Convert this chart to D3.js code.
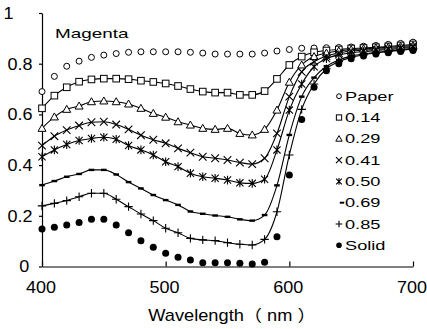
<!DOCTYPE html>
<html>
<head>
<meta charset="utf-8">
<script src="https://cdn.jsdelivr.net/npm/d3@7"></script>
<style>
  body { margin: 0; background: #fff; }
  text { font-family: "Liberation Sans", Arial, "Noto Sans CJK JP", sans-serif; fill: #000; }
</style>
</head>
<body>
<div id="chart"></div>
<script>
// wavelength samples (nm)
const wavelength = [400, 410, 420, 430, 440, 450, 460, 470, 480, 490, 500, 510, 520, 530, 540, 550,
  560, 570, 580, 590, 600, 610, 620, 630, 640, 650, 660, 670, 680, 690, 700];

// measured reflectance
const paper = [0.69, 0.75, 0.79, 0.81, 0.825, 0.834, 0.84, 0.845, 0.847, 0.847, 0.847, 0.847, 0.845, 0.842, 0.838, 0.838,
  0.838, 0.838, 0.842, 0.85, 0.856, 0.861, 0.862, 0.863, 0.864, 0.866, 0.869, 0.872, 0.876, 0.88, 0.885];
const m014 = [0.624, 0.674, 0.707, 0.729, 0.738, 0.741, 0.741, 0.739, 0.733, 0.728, 0.722, 0.712, 0.70, 0.69, 0.686, 0.686,
  0.677, 0.677, 0.692, 0.74, 0.795, 0.828, 0.845, 0.852, 0.856, 0.86, 0.862, 0.865, 0.868, 0.872, 0.876];
const m029 = [0.545, 0.59, 0.62, 0.633, 0.65, 0.653, 0.65, 0.641, 0.624, 0.604, 0.589, 0.571, 0.558, 0.545, 0.541, 0.545,
  0.525, 0.519, 0.541, 0.617, 0.727, 0.795, 0.828, 0.842, 0.85, 0.855, 0.858, 0.862, 0.865, 0.868, 0.872];
const m041 = [0.477, 0.514, 0.538, 0.556, 0.569, 0.571, 0.56, 0.541, 0.518, 0.50, 0.486, 0.466, 0.449, 0.433, 0.427, 0.42,
  0.41, 0.404, 0.427, 0.525, 0.67, 0.768, 0.808, 0.83, 0.842, 0.85, 0.853, 0.857, 0.86, 0.864, 0.868];
const m050 = [0.433, 0.46, 0.481, 0.497, 0.505, 0.51, 0.502, 0.477, 0.46, 0.44, 0.413, 0.394, 0.368, 0.354, 0.348, 0.341,
  0.33, 0.328, 0.344, 0.46, 0.617, 0.72, 0.788, 0.82, 0.835, 0.843, 0.848, 0.852, 0.856, 0.86, 0.865];
const m069 = [0.321, 0.337, 0.354, 0.365, 0.381, 0.381, 0.363, 0.333, 0.308, 0.282, 0.262, 0.243, 0.217, 0.208, 0.201, 0.196,
  0.186, 0.181, 0.203, 0.32, 0.519, 0.67, 0.745, 0.79, 0.815, 0.83, 0.838, 0.845, 0.85, 0.855, 0.86];
const m085 = [0.239, 0.249, 0.26, 0.275, 0.289, 0.289, 0.265, 0.236, 0.207, 0.181, 0.151, 0.133, 0.111, 0.105, 0.102, 0.094,
  0.088, 0.085, 0.107, 0.216, 0.44, 0.62, 0.72, 0.78, 0.808, 0.825, 0.835, 0.842, 0.848, 0.853, 0.858];
const solid = [0.148, 0.155, 0.164, 0.174, 0.186, 0.186, 0.164, 0.133, 0.102, 0.076, 0.052, 0.036, 0.026, 0.015, 0.015, 0.015,
  0.013, 0.01, 0.017, 0.117, 0.361, 0.58, 0.707, 0.772, 0.80, 0.82, 0.83, 0.838, 0.843, 0.848, 0.852];

const seriesNames = ["Paper", "0.14", "0.29", "0.41", "0.50", "0.69", "0.85", "Solid"];
const xTicks = [400, 500, 600, 700];
const yTicks = [0, 0.2, 0.4, 0.6, 0.8, 1];

const width = 427, height = 329;
const x = d3.scaleLinear().domain([400, 700]).range([42, 413]);
const y = d3.scaleLinear().domain([0, 1]).range([266.5, 13]);

const svg = d3.select("#chart").append("svg")
  .attr("width", width)
  .attr("height", height);

// marker shapes, s = scale factor
function drawMarker(g, type, s) {
  const k = s || 1;
  if (type === "circle") {
    g.append("circle").attr("r", 3 * k).attr("fill", "#fff").attr("stroke", "#000").attr("stroke-width", 1);
  } else if (type === "square") {
    g.append("rect").attr("x", -3.3 * k).attr("y", -3.3 * k).attr("width", 6.6 * k).attr("height", 6.6 * k)
      .attr("fill", "#fff").attr("stroke", "#000").attr("stroke-width", 1);
  } else if (type === "triangle") {
    g.append("path").attr("d", `M0,${-4 * k}L${4 * k},${3 * k}L${-4 * k},${3 * k}Z`)
      .attr("fill", "#fff").attr("stroke", "#000").attr("stroke-width", 1);
  } else if (type === "times") {
    const a = 3.8 * k;
    g.append("path").attr("d", `M${-a},${-a}L${a},${a}M${-a},${a}L${a},${-a}`).attr("stroke", "#000").attr("stroke-width", 1.1);
  } else if (type === "asterisk") {
    const a = 3.6 * k;
    g.append("path").attr("d", `M${-a},${-a}L${a},${a}M${-a},${a}L${a},${-a}M0,${-a * 1.2}L0,${a * 1.2}`)
      .attr("stroke", "#000").attr("stroke-width", 1.1);
  } else if (type === "dash") {
    g.append("rect").attr("x", -2.8 * k).attr("y", -1.2 * k).attr("width", 5.6 * k).attr("height", 2.4 * k).attr("fill", "#000");
  } else if (type === "plus") {
    const a = 4.2 * k;
    g.append("path").attr("d", `M${-a},0L${a},0M0,${-a}L0,${a}`).attr("stroke", "#000").attr("stroke-width", 1.1);
  } else if (type === "dot") {
    g.append("circle").attr("r", 3.5 * k).attr("fill", "#000");
  }
}

const series = [
  { name: seriesNames[0], values: paper, marker: "circle", line: false },
  { name: seriesNames[1], values: m014, marker: "square", line: true },
  { name: seriesNames[2], values: m029, marker: "triangle", line: true },
  { name: seriesNames[3], values: m041, marker: "times", line: true },
  { name: seriesNames[4], values: m050, marker: "asterisk", line: true },
  { name: seriesNames[5], values: m069, marker: "dash", line: true },
  { name: seriesNames[6], values: m085, marker: "plus", line: true },
  { name: seriesNames[7], values: solid, marker: "dot", line: false }
];

// axes
const xAxis = svg.append("g")
  .attr("transform", `translate(0,${y(0)})`)
  .call(d3.axisBottom(x).tickValues(xTicks).tickSize(-5).tickSizeOuter(0).tickPadding(14));
xAxis.selectAll("text").attr("font-size", 17).attr("transform", "scale(1.06,1)").attr("dx", -1.5);

const yAxis = svg.append("g")
  .attr("transform", `translate(${x(400)},0)`)
  .call(d3.axisLeft(y).tickValues(yTicks).tickSize(3).tickSizeOuter(0).tickPadding(6)
    .tickFormat(d => d === 0 ? "0" : d === 1 ? "1" : d3.format(".1f")(d)));
yAxis.selectAll("text").attr("font-size", 17).attr("transform", "scale(1.06,1)")
  .attr("dx", d => d === 1 ? -18 : d === 0 ? -3 : 0);

svg.selectAll(".domain, .tick line").attr("stroke", "#000").attr("stroke-width", 1.2);
svg.selectAll(".tick text").attr("fill", "#000").style("font-family", null);

// lines
const line = d3.line()
  .x((d, i) => x(wavelength[i]))
  .y(d => y(d))
  .curve(d3.curveMonotoneX);

svg.append("g").selectAll("path")
  .data(series.filter(s => s.line))
  .join("path")
  .attr("d", s => line(s.values))
  .attr("fill", "none")
  .attr("stroke", "#000")
  .attr("stroke-width", 1.1);

// markers
series.forEach(s => {
  const g = svg.append("g");
  s.values.forEach((v, i) => {
    const m = g.append("g").attr("transform", `translate(${x(wavelength[i])},${y(v)})`);
    drawMarker(m, s.marker, 1);
  });
});

// title inside plot
svg.append("text")
  .attr("transform", "translate(55,38) scale(1.4,1)")
  .attr("font-size", 13.5)
  .text("Magenta");

// legend
const legend = svg.append("g");
series.forEach((s, i) => {
  const base = 100.7 + i * 21.3;
  const mx = s.marker === "dash" ? 342 : 339;
  const mg = legend.append("g").attr("transform", `translate(${mx},${base - 4.5})`);
  drawMarker(mg, s.marker, 0.8);
  legend.append("text")
    .attr("transform", `translate(345,${base}) scale(1.4,1)`)
    .attr("font-size", 13)
    .text(s.name);
});

// x axis title
svg.append("text")
  .attr("transform", "translate(232,321) scale(1.14,1)")
  .attr("text-anchor", "middle")
  .attr("font-size", 16)
  .text("Wavelength（ nm ）");
</script>
</body>
</html>
